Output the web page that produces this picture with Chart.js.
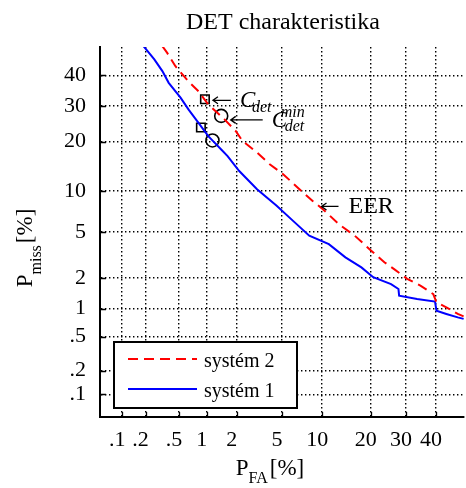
<!DOCTYPE html>
<html><head><meta charset="utf-8">
<script src="https://cdn.jsdelivr.net/npm/chart.js@4.4.1/dist/chart.umd.min.js"></script>
<style>html,body{margin:0;padding:0;overflow:hidden;background:#fff;}canvas{display:block;}</style>
</head><body>
<canvas id="c" width="472" height="488"></canvas>
<script>
// ---- data (all values in percent) ----
const tickPercents = [0.1, 0.2, 0.5, 1, 2, 5, 10, 20, 30, 40];
const tickLabels = ['.1', '.2', '.5', '1', '2', '5', '10', '20', '30', '40'];
const axisMinPercent = 0.05;
const axisMaxPercent = 50;

const sys1PFA   = [0.181, 0.256, 0.32, 0.38, 0.52, 0.64, 0.82, 1.04, 1.16, 1.41, 1.63, 2.11, 3.07, 4.52, 6.12, 8.1, 11.1, 14.2, 17.7, 20.6, 25.5, 27.7, 27.9, 33.6, 39.7, 40.2, 43.7, 47.8, 49.9];
const sys1PMiss = [50.9, 45.6, 41.5, 37.5, 32.6, 28.9, 25.0, 21.4, 20.2, 18.1, 16.6, 13.5, 10.3, 7.9, 6.1, 4.66, 3.98, 3.07, 2.50, 2.03, 1.75, 1.57, 1.35, 1.25, 1.18, 0.95, 0.88, 0.81, 0.78];

const sys2PFA   = [0.32, 0.365, 0.455, 0.64, 0.82, 1.04, 1.52, 1.96, 2.26, 3.07, 3.98, 5.11, 6.85, 8.57, 10.2, 12.9, 16.2, 20.1, 23.6, 26.4, 30.4, 34.7, 39.1, 40.2, 43.7, 47.8, 49.9];
const sys2PMiss = [50.3, 47.9, 43.2, 37.9, 34.7, 30.5, 26.0, 22.7, 20.2, 17.4, 14.8, 12.9, 10.3, 8.55, 7.4, 5.76, 4.66, 3.50, 2.78, 2.41, 1.96, 1.69, 1.40, 1.16, 1.03, 0.88, 0.83];

// actual C_det (squares) and minimum C_det (circles): [system 2, system 1]
const actDcfPFA   = [0.96, 0.87];
const actDcfPMiss = [32.1, 23.7];
const minDcfPFA   = [1.41, 1.15];
const minDcfPMiss = [27.0, 20.3];
const eerPercent  = 8.55;

const seriesLabels = ['systém 2', 'systém 1'];
const seriesColors = ['#ff0000', '#0000ff'];

// ---- probit (inverse normal CDF) ----
function probit(p){
  const a=[-3.969683028665376e+01,2.209460984245205e+02,-2.759285104469687e+02,1.383577518672690e+02,-3.066479806614716e+01,2.506628277459239e+00];
  const b=[-5.447609879822406e+01,1.615858368580409e+02,-1.556989798598866e+02,6.680131188771972e+01,-1.328068155288572e+01];
  const c=[-7.784894002430293e-03,-3.223964580411365e-01,-2.400758277161838e+00,-2.549732539343734e+00,4.374664141464968e+00,2.938163982698783e+00];
  const d=[7.784695709041462e-03,3.224671290700398e-01,2.445134137142996e+00,3.754408661907416e+00];
  const pl=0.02425, ph=1-pl; let q, r;
  if (p < pl) { q=Math.sqrt(-2*Math.log(p)); return (((((c[0]*q+c[1])*q+c[2])*q+c[3])*q+c[4])*q+c[5])/((((d[0]*q+d[1])*q+d[2])*q+d[3])*q+1); }
  if (p <= ph) { q=p-0.5; r=q*q; return (((((a[0]*r+a[1])*r+a[2])*r+a[3])*r+a[4])*r+a[5])*q/(((((b[0]*r+b[1])*r+b[2])*r+b[3])*r+b[4])*r+1); }
  q=Math.sqrt(-2*Math.log(1-p)); return -(((((c[0]*q+c[1])*q+c[2])*q+c[3])*q+c[4])*q+c[5])/((((d[0]*q+d[1])*q+d[2])*q+d[3])*q+1);
}
const pz = v => probit(v / 100);
const toPts = (xs, ys) => xs.map((x, i) => ({x: pz(x), y: pz(ys[i])}));

const SERIF = '"Liberation Serif", "Times New Roman", serif';
const tickFont = {family: SERIF, size: 22};

function probitAxis(extra){
  return Object.assign({
    type: 'linear',
    min: pz(axisMinPercent),
    max: pz(axisMaxPercent),
    afterBuildTicks: s => { s.ticks = tickPercents.map(v => ({value: pz(v)})); },
    ticks: {
      callback: (v, i) => tickLabels[i],
      font: tickFont, color: '#000', autoSkip: false, maxRotation: 0
    },
    grid: {color: '#000', lineWidth: 1.4, drawTicks: false},
    border: {display: true, color: '#000', width: 2, dash: [1.4, 2.6]}
  }, extra);
}

const x = probitAxis({afterFit: s => { s.height = 71; }});
x.ticks.padding = 10; x.ticks.labelOffset = -5;
const y = probitAxis({afterFit: s => { s.width = 100; }});
y.ticks.padding = 14;

function drawArrow(ctx, tipX, tipY, len){
  ctx.save();
  ctx.strokeStyle = '#000'; ctx.lineWidth = 1.3;
  ctx.beginPath();
  ctx.moveTo(tipX, tipY); ctx.lineTo(tipX + len, tipY);
  ctx.moveTo(tipX + 5, tipY - 3.5); ctx.lineTo(tipX, tipY); ctx.lineTo(tipX + 5, tipY + 3.5);
  ctx.stroke();
  ctx.restore();
}

const decor = {
  id: 'decor',
  afterDraw(chart){
    const {ctx, chartArea: ca, scales} = chart;
    const xs = scales.x, ys = scales.y;
    ctx.save();
    // inward tick marks
    ctx.strokeStyle = '#000'; ctx.lineWidth = 1.3;
    ctx.beginPath();
    tickPercents.forEach(v => {
      const px = Math.round(xs.getPixelForValue(pz(v))) + 0.5;
      ctx.moveTo(px, ca.bottom); ctx.lineTo(px, ca.bottom - 5);
      const py = Math.round(ys.getPixelForValue(pz(v))) + 0.5;
      ctx.moveTo(ca.left, py); ctx.lineTo(ca.left + 6, py);
    });
    ctx.stroke();

    // title
    ctx.fillStyle = '#000';
    ctx.font = '24px ' + SERIF;
    ctx.textAlign = 'center'; ctx.textBaseline = 'alphabetic';
    ctx.fillText('DET charakteristika', (ca.left + ca.right) / 2 + 1, ca.top - 18);

    // axis titles with subscripts
    function rich(parts){
      let w = 0;
      parts.forEach(p => { ctx.font = p.f; p.w = ctx.measureText(p.t).width; w += p.w + (p.gap || 0); });
      return w;
    }
    function drawRich(parts, x0, y0){
      let cx = x0;
      ctx.textAlign = 'left';
      parts.forEach(p => { ctx.font = p.f; ctx.fillText(p.t, cx, y0 + (p.dy || 0)); cx += p.w + (p.gap || 0); });
    }
    const xt = [{t: 'P', f: '23px ' + SERIF}, {t: 'FA', f: '16px ' + SERIF, dy: 8, gap: 2}, {t: '[%]', f: '23px ' + SERIF}];
    const xw = rich(xt);
    drawRich(xt, (ca.left + ca.right) / 2 - 12 - xw / 2, ca.bottom + 58);
    const yt = [{t: 'P', f: '23px ' + SERIF}, {t: 'miss', f: '16px ' + SERIF, dy: 9, gap: 2}, {t: '[%]', f: '23px ' + SERIF}];
    const yw = rich(yt);
    ctx.save();
    ctx.translate(32, (ca.top + ca.bottom) / 2 + 16);
    ctx.rotate(-Math.PI / 2);
    drawRich(yt, -yw / 2, 0);
    ctx.restore();

    // annotations
    const sq = {x: xs.getPixelForValue(pz(actDcfPFA[0])), y: ys.getPixelForValue(pz(actDcfPMiss[0]))};
    const ci = {x: xs.getPixelForValue(pz(minDcfPFA[0])), y: ys.getPixelForValue(pz(minDcfPMiss[0]))};
    const ee = {x: xs.getPixelForValue(pz(eerPercent)), y: ys.getPixelForValue(pz(eerPercent))};
    const it = 'italic 23px ' + SERIF, its = 'italic 16px ' + SERIF;
    // C_det
    let tx = sq.x + 8, ty = sq.y + 1;
    drawArrow(ctx, tx, ty, 18);
    ctx.textAlign = 'left';
    ctx.font = it; ctx.fillText('C', tx + 27, ty + 7);
    ctx.font = its; ctx.fillText('det', tx + 39, ty + 12);
    // C_det^min
    tx = ci.x + 9.5; ty = ci.y + 4;
    drawArrow(ctx, tx, ty, 32);
    ctx.font = it; ctx.fillText('C', tx + 41, ty + 7);
    ctx.font = its; ctx.fillText('min', tx + 50, ty - 3); ctx.fillText('det', tx + 54, ty + 11);
    // EER
    tx = ee.x + 9; ty = ee.y + 5.5;
    drawArrow(ctx, tx, ty, 17);
    ctx.font = '24px ' + SERIF; ctx.fillText('EER', tx + 27, ty + 7);

    // legend box
    const lx = ca.left + 14, ly = ca.bottom - 75, lw = 183, lh = 66;
    ctx.fillStyle = '#fff'; ctx.fillRect(lx, ly, lw, lh);
    ctx.strokeStyle = '#000'; ctx.lineWidth = 2; ctx.strokeRect(lx, ly, lw, lh);
    const ds = chart.data.datasets;
    [0, 1].forEach(i => {
      const d = ds[i];
      const yy = ly + 17 + i * 30;
      ctx.save();
      ctx.strokeStyle = d.borderColor; ctx.lineWidth = 2;
      ctx.setLineDash(d.borderDash || []);
      ctx.beginPath(); ctx.moveTo(lx + 14, yy); ctx.lineTo(lx + 83, yy); ctx.stroke();
      ctx.restore();
      ctx.fillStyle = '#000'; ctx.font = '20px ' + SERIF; ctx.textAlign = 'left';
      ctx.fillText(d.label, lx + 90, yy + 8);
    });
    ctx.restore();
  }
};

new Chart(document.getElementById('c'), {
  type: 'line',
  data: {
    datasets: [
      {label: seriesLabels[0], data: toPts(sys2PFA, sys2PMiss), borderColor: seriesColors[0], borderWidth: 2, borderDash: [10, 6], pointRadius: 0, tension: 0, fill: false},
      {label: seriesLabels[1], data: toPts(sys1PFA, sys1PMiss), borderColor: seriesColors[1], borderWidth: 2, pointRadius: 0, tension: 0, fill: false},
      {label: 'act', data: toPts(actDcfPFA, actDcfPMiss), showLine: false, pointStyle: 'rect', pointRadius: 6, borderColor: '#000', backgroundColor: 'rgba(0,0,0,0)', borderWidth: 1.6},
      {label: 'min', data: toPts(minDcfPFA, minDcfPMiss), showLine: false, pointStyle: 'circle', pointRadius: 6.5, borderColor: '#000', backgroundColor: 'rgba(0,0,0,0)', borderWidth: 1.6}
    ]
  },
  options: {
    responsive: false,
    animation: false,
    events: [],
    layout: {padding: {top: 47, left: 0, right: 0, bottom: 0}},
    plugins: {legend: {display: false}, title: {display: false}, tooltip: {enabled: false}},
    scales: {x, y}
  },
  plugins: [decor]
});
</script>
</body></html>
